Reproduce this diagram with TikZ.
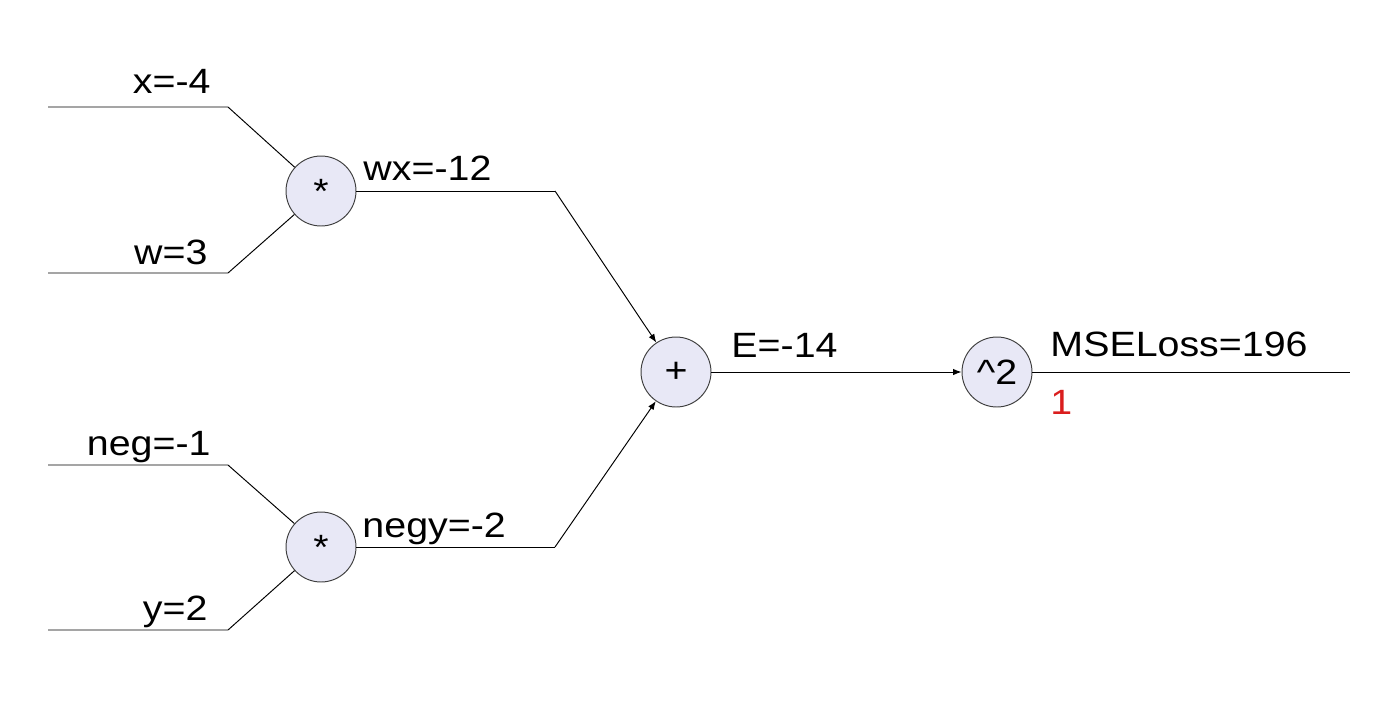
\documentclass[tikz,border=0pt]{standalone}
\usepackage{fontspec}
\setmainfont{Liberation Sans}[FakeStretch=1.12]
\usepackage{xcolor}
\usetikzlibrary{arrows.meta}
\tikzset{>={Latex[width=1.3mm,length=1.7mm]}}
\definecolor{opfill}{RGB}{232,232,246}
\definecolor{gradred}{RGB}{218,30,30}
\tikzset{
  op/.style={circle,draw=black!75,fill=opfill,minimum size=1.4cm,inner sep=0pt,font=\fontsize{20}{24}\selectfont},
  val/.style={font=\fontsize{20}{24}\selectfont,inner sep=0pt}
}

\begin{document}
\begin{tikzpicture}[x=0.02cm,y=-0.02cm,line width=0.55pt]

  \useasboundingbox (0,0) rectangle (1400,701);

  \node[op] (mulwx) at (321,191) {*};
  \node[op] (mulny) at (321,547) {*};
  \node[op] (add) at (676,372) {+};
  \node[op] (sq) at (997,372) {\textasciicircum2};

  \coordinate (xin) at (48,107);
  \coordinate (xbend) at (228,107);
  \coordinate (win) at (48,273);
  \coordinate (wbend) at (228,273);
  \coordinate (negin) at (48,465);
  \coordinate (negbend) at (228,465);
  \coordinate (yin) at (48,630);
  \coordinate (ybend) at (228,630);
  \coordinate (wxbend) at (555,191);
  \coordinate (nybend) at (555,547);
  \coordinate (lossout) at (1350,372);

  \draw (xin) -- (xbend) -- (mulwx);
  \draw (win) -- (wbend) -- (mulwx);
  \draw (negin) -- (negbend) -- (mulny);
  \draw (yin) -- (ybend) -- (mulny);

  \draw (mulwx) -- (wxbend);
  \draw[->] (wxbend) -- (add);
  \draw (mulny) -- (nybend);
  \draw[->] (nybend) -- (add);
  \draw[->] (add) -- (sq);
  \draw (sq) -- (lossout);

  \node[val,anchor=base east] (xlab) at (211,93) {x=-4};
  \node[val,anchor=base east] (wlab) at (208,264) {w=3};
  \node[val,anchor=base east] (neglab) at (211,455) {neg=-1};
  \node[val,anchor=base east] (ylab) at (208,620) {y=2};
  \node[val,anchor=base west] (wxlab) at (363,180) {wx=-12};
  \node[val,anchor=base west] (nylab) at (362,537) {negy=-2};
  \node[val,anchor=base west] (elab) at (731,357) {E=-14};
  \node[val,anchor=base west] (losslab) at (1050,356) {MSELoss=196};
  \node[val,anchor=base west,text=gradred] (gradlab) at (1050,414) {1};

\end{tikzpicture}
\end{document}
